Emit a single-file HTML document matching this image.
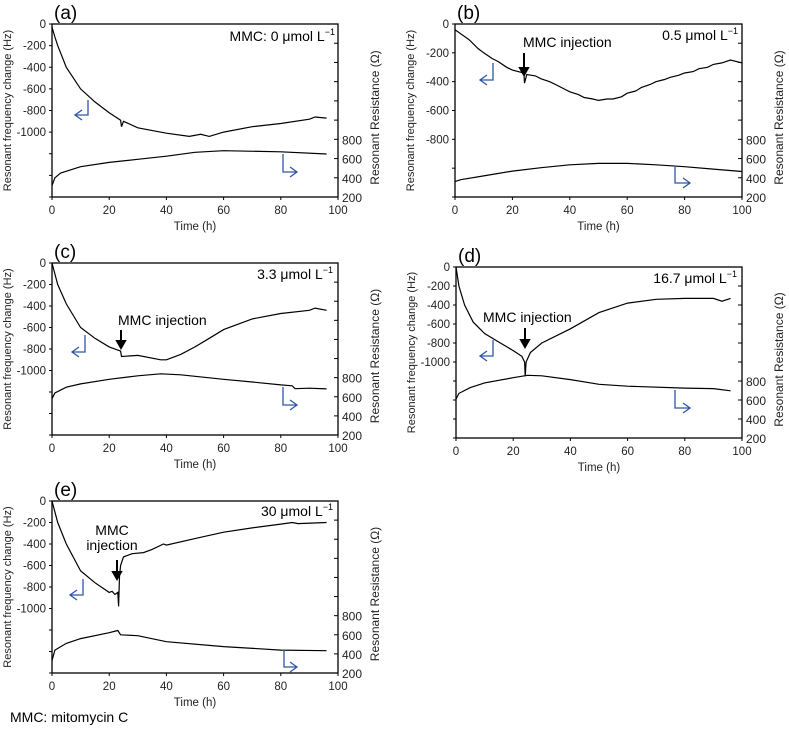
<!DOCTYPE html>
<html><head><meta charset="utf-8"><style>
body{margin:0;background:#fff}
svg{display:block;font-family:"Liberation Sans",Arial,sans-serif}
</style></head><body>
<svg id="fig" width="789" height="730" viewBox="0 0 789 730"></svg>
<script>
// ---- data ----
const timeTicks=[0,20,40,60,80,100];
const resTickLabels=[200,400,600,800];
const aT=[0,1,2,5,10,15,20,24,24.3,25,30,40,48,52,55,60,70,80,90,92,96];
const aF=[-30,-120,-200,-400,-600,-720,-820,-890,-950,-900,-960,-1010,-1040,-1020,-1040,-1000,-950,-920,-880,-860,-870];
const aRT=[0,1,3,10,20,30,40,50,60,80,96];
const aR=[320,400,450,515,560,592,625,665,682,670,647];
const bT=[0,5,8,10,13,15,18,20,22,24,24.2,25,28,30,33,35,38,40,43,45,48,50,53,55,58,60,63,65,68,70,73,75,78,80,83,85,88,90,93,96,100];
const bF=[-40,-110,-170,-200,-240,-260,-300,-320,-330,-340,-410,-350,-360,-380,-400,-420,-450,-470,-490,-510,-520,-530,-520,-520,-505,-480,-465,-440,-420,-400,-385,-370,-355,-340,-330,-310,-300,-280,-270,-250,-270];
const bRT=[0,2,10,20,30,40,50,60,70,80,90,100];
const bR=[360,380,420,470,505,535,550,550,535,515,490,465];
const cT=[0,2,5,10,15,20,24,24.3,30,38,40,45,50,55,60,70,80,90,92,96];
const cF=[0,-200,-380,-600,-700,-780,-820,-870,-860,-900,-900,-850,-780,-700,-620,-520,-470,-440,-420,-440];
const cRT=[0,1,5,10,20,30,38,45,60,70,80,84,85,90,96];
const cR=[580,640,700,735,783,820,840,830,783,755,724,715,685,690,682];
const dT=[0,1,3,6,10,15,20,23,24,24.2,24.5,26,30,40,50,60,70,80,90,93,96];
const dF=[0,-200,-400,-580,-700,-790,-880,-940,-1000,-1150,-1000,-900,-800,-650,-480,-380,-340,-330,-330,-360,-330];
const dRT=[0,1,5,10,20,25,30,40,50,60,80,90,96];
const dR=[610,670,730,780,835,860,855,815,765,745,725,720,697];
const eT=[0,2,5,10,15,20,21,22,23,23.3,23.6,24,25,28,32,35,39,40,50,60,70,80,84,86,96];
const eF=[0,-200,-400,-650,-760,-850,-840,-870,-850,-980,-700,-600,-520,-490,-480,-450,-400,-410,-350,-290,-250,-215,-200,-210,-200];
const eRT=[0,1,5,10,20,23,24,30,40,60,80,96];
const eR=[330,440,510,560,622,645,600,590,528,476,440,433];

const NS='http://www.w3.org/2000/svg';
const svg=document.getElementById('fig');
function el(tag,attrs,parent,text){const e=document.createElementNS(NS,tag);for(const k in attrs)e.setAttribute(k,attrs[k]);if(text!==undefined)e.textContent=text;(parent||svg).appendChild(e);return e;}

const panels=[
 {id:'a',x0:52,x1:338,y0:24,y1:197,fmin:-1600,lmin:-1000,T:aT,F:aF,RT:aRT,R:aR,conc:'MMC:  0 μmol L',cx:335,cy:41,
  la:[88,100,115,75],ra:[283,154,172,297]},
 {id:'b',x0:455,x1:742,y0:24,y1:197,fmin:-1200,lmin:-800,T:bT,F:bF,RT:bRT,R:bR,conc:'0.5 μmol L',cx:738,cy:40,
  la:[493,63,80,480],ra:[675,167,183,690],inj:{x:524,a0:53,a1:75,lines:[['MMC injection',523,47,'start']]}},
 {id:'c',x0:52,x1:338,y0:263,y1:435,fmin:-1600,lmin:-1000,T:cT,F:cF,RT:cRT,R:cR,conc:'3.3 μmol L',cx:333,cy:279,
  la:[85,335,352,72],ra:[283,387,405,297],inj:{x:121,a0:330,a1:348,lines:[['MMC injection',118,325,'start']]}},
 {id:'d',x0:456,x1:742,y0:267,y1:438,fmin:-1800,lmin:-1000,T:dT,F:dF,RT:dRT,R:dR,conc:'16.7 μmol L',cx:737,cy:283,
  la:[493,340,356,480],ra:[675,390,408,690],inj:{x:525,a0:328,a1:347,lines:[['MMC injection',483,322,'start']]}},
 {id:'e',x0:52,x1:338,y0:501,y1:673,fmin:-1600,lmin:-1000,T:eT,F:eF,RT:eRT,R:eR,conc:'30 μmol L',cx:333,cy:516,
  la:[83,579,595,70],ra:[284,650,667,297],inj:{x:117,a0:560,a1:579,lines:[['MMC',112,535,'middle'],['injection',112,550,'middle']]}}
];

panels.forEach(p=>{
  const g=el('g',{});
  
  
  const xs=t=>p.x0+(t/100)*(p.x1-p.x0);
  const yF=v=>p.y0+(v/p.fmin)*(p.y1-p.y0);
  const yR=v=>p.y1-((v-200)/1800)*(p.y1-p.y0);
  const pl=el('text',{x:p.x0+2,y:p.y0-5,'font-size':19,fill:'#000'},g,'('+p.id+')');
  
  
  const box=el('rect',{x:p.x0,y:p.y0,width:p.x1-p.x0,height:p.y1-p.y0,fill:'none',stroke:'#000','stroke-width':1.3},g);
  
  
  for(let v=0;v>=p.fmin;v-=200){
    const y=yF(v);
    el('line',{x1:p.x0-3,x2:p.x0,y1:y,y2:y,stroke:'#000'},g);
    if(v>=p.lmin){const t=el('text',{x:p.x0-6,y:y+4,'font-size':11.5,'text-anchor':'end',fill:'#222'},g,String(v));
      
      }
  }
  for(let v=200;v<=2000;v+=200){
    const y=yR(v);
    el('line',{x1:p.x1-4,x2:p.x1,y1:y,y2:y,stroke:'#000'},g);
  }
  resTickLabels.forEach(v=>{
    const t=el('text',{x:p.x1+4,y:yR(v)+5,'font-size':12,fill:'#222'},g,String(v));
    
    
  });
  timeTicks.forEach(v=>{
    const x=xs(v);
    el('line',{x1:x,x2:x,y1:p.y1,y2:p.y1+3,stroke:'#000'},g);
    const t=el('text',{x:x,y:p.y1+17,'font-size':11.5,'text-anchor':'middle',fill:'#222'},g,String(v));
    
    
  });
  const xt=el('text',{x:(p.x0+p.x1)/2,y:p.y1+33,'font-size':11.5,'text-anchor':'middle',fill:'#222'},g,'Time (h)');
  
  
  const ym=(p.y0+p.y1)/2;
  const lt=el('text',{x:0,y:0,'font-size':11,'text-anchor':'middle',fill:'#222',transform:`translate(${p.x0-41},${ym}) rotate(-90)`},g,'Resonant frequency change (Hz)');
  
  
  const rt=el('text',{x:0,y:0,'font-size':12,'text-anchor':'middle',fill:'#222',transform:`translate(${p.x1+41},${ym+7}) rotate(-90)`},g,'Resonant Resistance (Ω)');
  
  
  const fl=el('path',{d:p.T.map((t,i)=>(i?'L':'M')+xs(t).toFixed(1)+','+yF(p.F[i]).toFixed(1)).join(''),fill:'none',stroke:'#000','stroke-width':1.2},g);
  
  
  const rl=el('path',{d:p.RT.map((t,i)=>(i?'L':'M')+xs(t).toFixed(1)+','+yR(p.R[i]).toFixed(1)).join(''),fill:'none',stroke:'#000','stroke-width':1.2},g);
  
  
  const ct=el('text',{x:p.cx,y:p.cy,'font-size':14,'text-anchor':'end',fill:'#000'},g);
  
  
  ct.appendChild(document.createTextNode(p.conc));
  el('tspan',{'font-size':9,dy:-6},ct,'−1');
  const [lx,ly0,ly1,ltip]=p.la;
  const la=el('path',{d:`M${lx},${ly0}L${lx},${ly1}L${ltip},${ly1}M${ltip+7},${ly1-5}L${ltip},${ly1}L${ltip+7},${ly1+5}`,fill:'none',stroke:'#2f56a6','stroke-width':1.3},g);
  
  
  const [rx,ry0,ry1,rtip]=p.ra;
  const ra=el('path',{d:`M${rx},${ry0}L${rx},${ry1}L${rtip},${ry1}M${rtip-7},${ry1-5}L${rtip},${ry1}L${rtip-7},${ry1+5}`,fill:'none',stroke:'#2f56a6','stroke-width':1.3},g);
  
  
  if(p.inj){
    const i=p.inj;
    const ar=el('path',{d:`M${i.x},${i.a0}L${i.x},${i.a1-6}M${i.x-4},${i.a1-7}L${i.x+4},${i.a1-7}L${i.x},${i.a1}Z`,stroke:'#000','stroke-width':2,fill:'#000'},g);
    
    
    i.lines.forEach(l=>{
      const t=el('text',{x:l[1],y:l[2],'font-size':14,'text-anchor':l[3],fill:'#000'},g,l[0]);
      
      
    });
  }
});
const fn=el('text',{x:10,y:722,'font-size':14,fill:'#000'},svg,'MMC: mitomycin C');


</script>
</body></html>
